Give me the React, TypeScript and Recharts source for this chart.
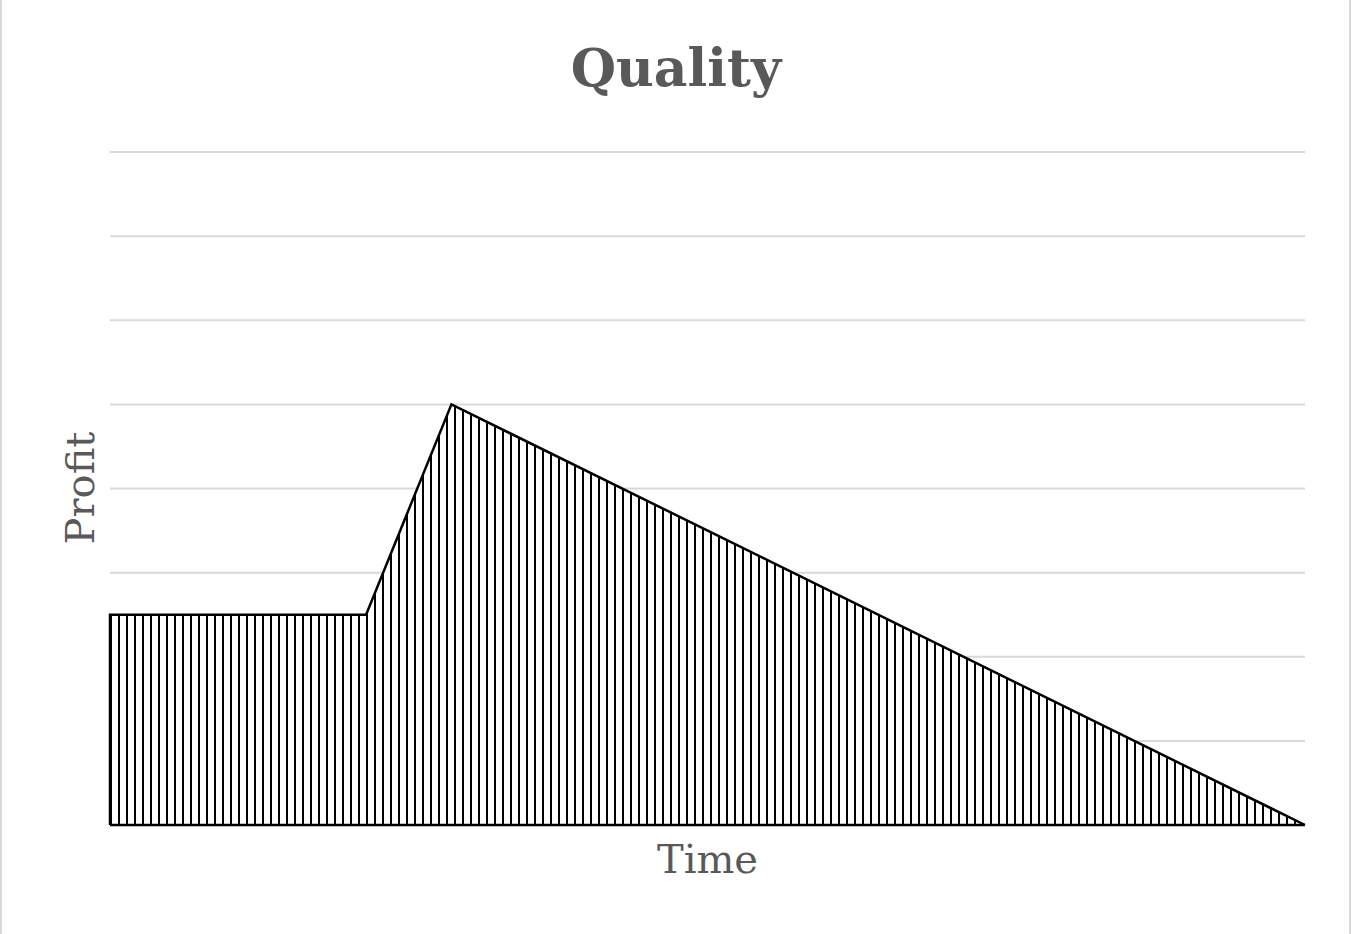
import { AreaChart, Area, XAxis, YAxis, CartesianGrid, ReferenceLine } from "recharts";

// time steps and profit (reads off the outline)
const times = [0, 0, 3, 4, 14];
const profit = [0, 2.5, 2.5, 5, 0];
const yTicks = [0, 1, 2, 3, 4, 5, 6, 7, 8];

const data = times.map((t, i) => ({ t, p: profit[i] }));

const W = 1352;
const H = 934;
const FONT = "'DejaVu Serif', serif";
const GREY = "#595959";

export default function App() {
  return (
    <div style={{ position: "absolute", left: 0, top: 0, width: W, height: H, background: "#fff" }}>
      <AreaChart
        width={W}
        height={H}
        data={data}
        margin={{ top: 152, right: 47, left: 110, bottom: 109 }}
      >
        <defs>
          <pattern id="vstripes" width={8} height={8} patternUnits="userSpaceOnUse">
            <rect width={8} height={8} fill="#fff" />
            <line x1={7} y1={0} x2={7} y2={8} stroke="#000" strokeWidth={2} />
          </pattern>
        </defs>
        <CartesianGrid vertical={false} stroke="#d9d9d9" strokeWidth={2} />
        <XAxis type="number" dataKey="t" domain={[0, 14]} hide />
        <YAxis hide domain={[0, 8]} ticks={yTicks} />
        <Area
          type="linear"
          dataKey="p"
          stroke="#000"
          strokeWidth={2.5}
          fill="url(#vstripes)"
          fillOpacity={1}
          isAnimationActive={false}
          dot={false}
          activeDot={false}
        />
        <ReferenceLine y={0} stroke="#000" strokeWidth={2.5} ifOverflow="visible" />
      </AreaChart>

      <div
        style={{
          position: "absolute", left: 0, top: 33, width: W, textAlign: "center",
          fontFamily: FONT, fontWeight: "bold", fontSize: 52, color: GREY, lineHeight: "70px",
        }}
      >
        Quality
      </div>
      <div
        style={{
          position: "absolute", left: 110, top: 834, width: 1195, textAlign: "center",
          fontFamily: FONT, fontSize: 40, color: GREY, lineHeight: "50px",
        }}
      >
        Time
      </div>
      <div style={{ position: "absolute", left: 80, top: 488, width: 0, height: 0 }}>
        <div
          style={{
            position: "absolute", left: -100, top: -25, width: 200, textAlign: "center",
            fontFamily: FONT, fontSize: 40, color: GREY, lineHeight: "50px",
            transform: "rotate(-90deg)",
          }}
        >
          Profit
        </div>
      </div>
      <div
        style={{
          position: "absolute", left: 0, top: 0, width: W - 1, height: H,
          boxSizing: "border-box", borderLeft: "2px solid #d9d9d9", borderRight: "2px solid #d9d9d9",
          pointerEvents: "none",
        }}
      />
    </div>
  );
}
